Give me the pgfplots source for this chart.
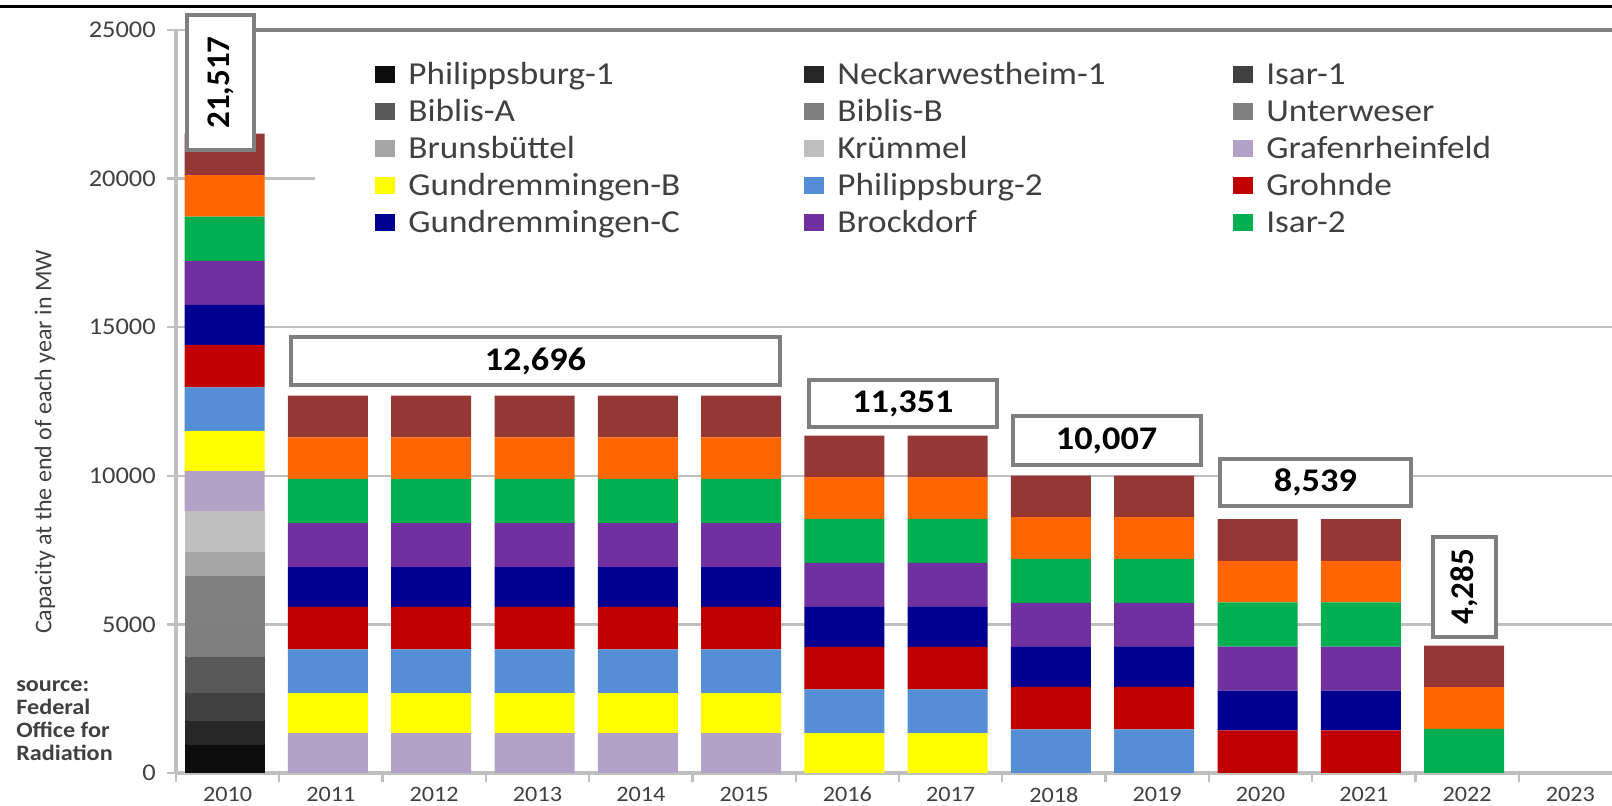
\documentclass[border=0pt]{standalone}
\usepackage{fontspec}
\setmainfont{Carlito}[FakeStretch=1.1]
\newfontfamily\rotfont{Carlito}
\usepackage{pgfplots}
\pgfplotsset{compat=1.18}
\usepackage{pgfplotstable}
\usetikzlibrary{calc}

\definecolor{cA}{HTML}{0D0D0D}
\definecolor{cB}{HTML}{262626}
\definecolor{cC}{HTML}{404040}
\definecolor{cD}{HTML}{595959}
\definecolor{cE}{HTML}{7F7F7F}
\definecolor{cF}{HTML}{808080}
\definecolor{cG}{HTML}{A6A6A6}
\definecolor{cH}{HTML}{BFBFBF}
\definecolor{cI}{HTML}{B3A2C7}
\definecolor{cJ}{HTML}{FFFF00}
\definecolor{cK}{HTML}{558ED5}
\definecolor{cL}{HTML}{C00000}
\definecolor{cM}{HTML}{000090}
\definecolor{cN}{HTML}{7030A0}
\definecolor{cO}{HTML}{00B050}
\definecolor{cP}{HTML}{FF6600}
\definecolor{cQ}{HTML}{953735}
\definecolor{gridc}{HTML}{BFBFBF}
\definecolor{boxc}{HTML}{7F7F7F}
\definecolor{topc}{HTML}{808080}
\definecolor{tickc}{HTML}{404040}
\definecolor{legc}{HTML}{404040}

\pgfplotstableread{
x  c1  c2  c3  c4   c5   c6   c7  c8   c9   c10  c11  c12  c13  c14  c15  c16  c17
0  926 840 912 1225 1300 1410 806 1402 1345 1344 1468 1430 1344 1480 1485 1400 1400
1  0   0   0   0    0    0    0   0    1345 1344 1468 1430 1344 1480 1485 1400 1400
2  0   0   0   0    0    0    0   0    1345 1344 1468 1430 1344 1480 1485 1400 1400
3  0   0   0   0    0    0    0   0    1345 1344 1468 1430 1344 1480 1485 1400 1400
4  0   0   0   0    0    0    0   0    1345 1344 1468 1430 1344 1480 1485 1400 1400
5  0   0   0   0    0    0    0   0    1345 1344 1468 1430 1344 1480 1485 1400 1400
6  0   0   0   0    0    0    0   0    0    1344 1468 1430 1344 1480 1485 1400 1400
7  0   0   0   0    0    0    0   0    0    1344 1468 1430 1344 1480 1485 1400 1400
8  0   0   0   0    0    0    0   0    0    0    1468 1430 1344 1480 1485 1400 1400
9  0   0   0   0    0    0    0   0    0    0    1468 1430 1344 1480 1485 1400 1400
10 0   0   0   0    0    0    0   0    0    0    0    1430 1344 1480 1485 1400 1400
11 0   0   0   0    0    0    0   0    0    0    0    1430 1344 1480 1485 1400 1400
12 0   0   0   0    0    0    0   0    0    0    0    0    0    0    1485 1400 1400
13 0   0   0   0    0    0    0   0    0    0    0    0    0    0    0    0    0
}\datatable

\pgfplotsset{
  mylegend/.style={legend image code/.code={\fill[##1] (0pt,-4.25pt) rectangle (10pt,4.25pt);}},
}
\newcommand{\lw}[1]{\makebox[191.5pt][l]{#1}}
\newcommand{\lz}[1]{\makebox[140pt][l]{#1}}

\begin{document}
\begin{tikzpicture}
\begin{axis}[
  name=ax,
  scale only axis,
  width=723pt, height=371.5pt,
  xmin=-0.5, xmax=13.5, ymin=0, ymax=25000,
  enlarge x limits=false, enlarge y limits=false,
  ybar stacked, bar width=40pt, bar shift=-1.5pt,
  axis x line*=bottom, axis y line*=left,
  axis line style={draw=gridc, line width=1.6pt},
  ytick={0,5000,...,25000},
  minor ytick={0,5000,...,25000},
  xtick={0,...,13},
  xticklabels={2010,2011,2012,2013,2014,2015,2016,2017,2018,2019,2020,2021,2022,2023},
  minor xtick={-0.5,0.5,...,13.5},
  major tick length=0pt, minor tick length=4.5pt, tick align=outside,
  minor tick style={draw=gridc, line width=1.2pt},
  ymajorgrids, major grid style={draw=gridc, line width=1.2pt},
  scaled y ticks=false,
  /pgf/number format/1000 sep={},
  /pgf/number format/assume math mode=true,
  yticklabel style={font=\fontsize{12}{14}\selectfont, text=tickc, xshift=-6.6pt},
  xticklabel style={font=\fontsize{11}{13}\selectfont, text=tickc, yshift=-3.5pt},
  ylabel={Capacity at the end of each year in MW},
  ylabel style={at={(rel axis cs:-0.0906,0.4455)}, anchor=center, font=\rotfont\fontsize{12}{14}\selectfont, text=tickc},
  clip=false,
  legend columns=3,
  legend cell align=left,
  legend style={at={(rel axis cs:0.0961,0.9919)}, anchor=north west, draw=none, fill=white,
    inner xsep=30pt, inner ysep=11pt, row sep=2.5pt,
    font=\fontsize{16}{19}\selectfont, text=legc,
    nodes={text height=13pt, text depth=3pt, inner ysep=0pt, inner xsep=6.5pt}},
]
\addplot[fill=cA, draw=none, mylegend] table[x=x, y=c1] {\datatable};
\addlegendentry{\lw{Philippsburg-1}}
\addplot[fill=cB, draw=none, mylegend] table[x=x, y=c2] {\datatable};
\addlegendentry{\lw{Neckarwestheim-1}}
\addplot[fill=cC, draw=none, mylegend] table[x=x, y=c3] {\datatable};
\addlegendentry{\lz{Isar-1}}
\addplot[fill=cD, draw=none, mylegend] table[x=x, y=c4] {\datatable};
\addlegendentry{\lw{Biblis-A}}
\addplot[fill=cE, draw=none, mylegend] table[x=x, y=c5] {\datatable};
\addlegendentry{\lw{Biblis-B}}
\addplot[fill=cF, draw=none, mylegend] table[x=x, y=c6] {\datatable};
\addlegendentry{\lz{Unterweser}}
\addplot[fill=cG, draw=none, mylegend] table[x=x, y=c7] {\datatable};
\addlegendentry{\lw{Brunsbüttel}}
\addplot[fill=cH, draw=none, mylegend] table[x=x, y=c8] {\datatable};
\addlegendentry{\lw{Krümmel}}
\addplot[fill=cI, draw=none, mylegend] table[x=x, y=c9] {\datatable};
\addlegendentry{\lz{Grafenrheinfeld}}
\addplot[fill=cJ, draw=none, mylegend] table[x=x, y=c10] {\datatable};
\addlegendentry{\lw{Gundremmingen-B}}
\addplot[fill=cK, draw=none, mylegend] table[x=x, y=c11] {\datatable};
\addlegendentry{\lw{Philippsburg-2}}
\addplot[fill=cL, draw=none, mylegend] table[x=x, y=c12] {\datatable};
\addlegendentry{\lz{Grohnde}}
\addplot[fill=cM, draw=none, mylegend] table[x=x, y=c13] {\datatable};
\addlegendentry{\lw{Gundremmingen-C}}
\addplot[fill=cN, draw=none, mylegend] table[x=x, y=c14] {\datatable};
\addlegendentry{\lw{Brockdorf}}
\addplot[fill=cO, draw=none, mylegend] table[x=x, y=c15] {\datatable};
\addlegendentry{\lz{Isar-2}}
\addplot[fill=cP, draw=none, forget plot] table[x=x, y=c16] {\datatable};
\addplot[fill=cQ, draw=none, forget plot] table[x=x, y=c17] {\datatable};

\coordinate (b1a) at (axis cs:-0.394,20962);
\coordinate (b1b) at (axis cs:0.255,25505);
\coordinate (b2a) at (axis cs:0.613,13055);
\coordinate (b2b) at (axis cs:5.347,14670);
\coordinate (b3a) at (axis cs:5.628,11642);
\coordinate (b3b) at (axis cs:7.448,13223);
\coordinate (b4a) at (axis cs:7.60,10363);
\coordinate (b4b) at (axis cs:9.42,12012);
\coordinate (b5a) at (axis cs:9.607,8984);
\coordinate (b5b) at (axis cs:11.456,10565);
\coordinate (b6a) at (axis cs:11.668,4576);
\coordinate (b6b) at (axis cs:12.278,7941);

\node[anchor=north west, align=left, inner sep=0pt, text=tickc,
  font=\bfseries\fontsize{11}{11.5}\selectfont] at (rel axis cs:-0.1107,0.1252)
  {source:\\Federal\\Office for\\Radiation};
\end{axis}
\draw[topc, line width=2pt] ($(ax.south west)+(39pt,371.5pt)$) -- ++(720pt,0);
\draw[black, line width=1.5pt] ($(ax.south west)+(-90pt,383.25pt)$) -- ++(820pt,0);
\tikzset{lbl/.style={text=black, font=\bfseries\fontsize{16.5}{19}\selectfont},
         rlbl/.style={text=black, rotate=90, font=\rotfont\bfseries\fontsize{16.5}{19}\selectfont},
         bx/.style={draw=boxc, line width=2pt, fill=white}}
\draw[bx] (b1a) rectangle (b1b);
\node[rlbl] at ($(b1a)!0.5!(b1b)$) {21,517};
\draw[bx] (b2a) rectangle (b2b);
\node[lbl] at ($(b2a)!0.5!(b2b)$) {12,696};
\draw[bx] (b3a) rectangle (b3b);
\node[lbl] at ($(b3a)!0.5!(b3b)$) {11,351};
\draw[bx] (b4a) rectangle (b4b);
\node[lbl] at ($(b4a)!0.5!(b4b)$) {10,007};
\draw[bx] (b5a) rectangle (b5b);
\node[lbl] at ($(b5a)!0.5!(b5b)$) {8,539};
\draw[bx] (b6a) rectangle (b6b);
\node[rlbl] at ($(b6a)!0.5!(b6b)$) {4,285};
\pgfresetboundingbox
\useasboundingbox ($(ax.south west)+(-88pt,-16.5pt)$) rectangle ($(ax.south west)+(718pt,386.5pt)$);
\end{tikzpicture}
\end{document}
